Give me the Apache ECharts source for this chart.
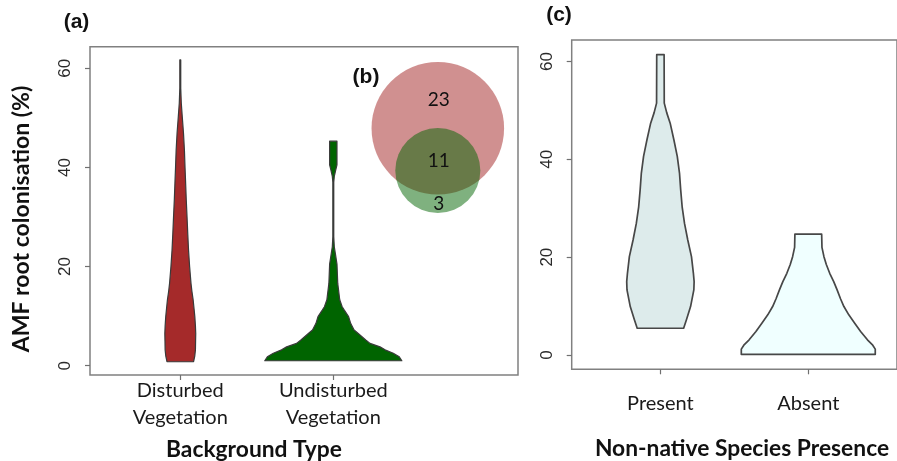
<!DOCTYPE html>
<html>
<head>
<meta charset="utf-8">
<script src="https://cdn.jsdelivr.net/npm/echarts@6/dist/echarts.min.js"></script>
<style>
html,body{margin:0;padding:0;background:#fff;}
#chart{width:897px;height:461px;}
</style>
</head>
<body>
<div id="chart"></div>
<script>
// ---------- DATA ----------
const categoriesA = ['Disturbed\nVegetation', 'Undisturbed\nVegetation'];
const categoriesC = ['Present', 'Absent'];
const yTicks = [0, 20, 40, 60];

// violin outlines: colonisation level (%) and density half-width (in category-spacing units)
const disturbedLevels   = [0.8, 2, 3.2, 5, 6.5, 8, 9.9, 11.5, 13.3, 15, 16.6, 20, 23.3, 26.5, 30.1, 33.5, 36.8, 40, 43.5, 46.9, 50.2, 53, 56, 61.7];
const disturbedWidths   = [0.087, 0.095, 0.099, 0.1, 0.101, 0.099, 0.095, 0.09, 0.084, 0.076, 0.07, 0.061, 0.054, 0.049, 0.044, 0.039, 0.035, 0.031, 0.027, 0.021, 0.013, 0.0065, 0.003, 0.003];

const undisturbedLevels = [1.0, 1.8, 2.5, 3.2, 3.8, 4.5, 5.2, 6.5, 7.2, 8.5, 9.9, 11.2, 11.9, 13.3, 16.6, 20.5, 22.7, 24, 26, 37, 38.2, 39.5, 40.5, 45.3];
const undisturbedWidths = [0.448, 0.431, 0.392, 0.338, 0.305, 0.24, 0.212, 0.163, 0.136, 0.114, 0.1, 0.072, 0.058, 0.042, 0.029, 0.024, 0.013, 0.0065, 0.003, 0.003, 0.0065, 0.016, 0.024, 0.024];

const presentLevels     = [5.46, 7.2, 9.9, 13.3, 15, 16.7, 20.1, 23.5, 26.9, 30.3, 33.8, 37.2, 40.6, 44, 47.4, 49.5, 51.5, 61.4];
const presentWidths     = [0.157, 0.176, 0.204, 0.226, 0.228, 0.223, 0.21, 0.185, 0.163, 0.147, 0.137, 0.129, 0.114, 0.091, 0.066, 0.043, 0.026, 0.025];

const absentLevels      = [0.14, 1.2, 2.0, 3.1, 4.8, 6.5, 8.2, 9.9, 11.5, 13.3, 15, 16.7, 18.5, 20.1, 22, 24.7];
const absentWidths      = [0.453, 0.453, 0.436, 0.4, 0.354, 0.314, 0.274, 0.241, 0.218, 0.195, 0.172, 0.145, 0.122, 0.106, 0.0925, 0.0905];

// Venn (b): species counts
const vennOnlyDisturbed = 23;
const vennShared = 11;
const vennOnlyUndisturbed = 3;

// ---------- LAYOUT / STYLE ----------
const violinsA = [
  {levels: disturbedLevels, widths: disturbedWidths, fill: '#A52A2A'},
  {levels: undisturbedLevels, widths: undisturbedWidths, fill: '#006400'}
];
const violinsC = [
  {levels: presentLevels, widths: presentWidths, fill: '#DDEBEB'},
  {levels: absentLevels, widths: absentWidths, fill: '#F0FFFF'}
];
const vennAnchor = [2.683, 47.9];   // centre of the larger circle in panel (a) units
const vennUnitsPerSqrt = 2.293;     // radius (y units) per sqrt(count)

const tickFont = 'Liberation Sans, Arial, sans-serif';
const catFont = 'Lato, "Open Sans", sans-serif';

function violinRender(list, strokeColor, lw) {
  return function (params, api) {
    const i = params.dataIndex;
    const v = list[i];
    const xc = api.value(0);
    const pts = [];
    for (let k = 0; k < v.levels.length; k++) pts.push(api.coord([xc + v.widths[k], v.levels[k]]));
    for (let k = v.levels.length - 1; k >= 0; k--) pts.push(api.coord([xc - v.widths[k], v.levels[k]]));
    return {
      type: 'polygon',
      shape: {points: pts},
      style: {fill: v.fill, stroke: strokeColor, lineWidth: lw, lineJoin: 'round'}
    };
  };
}

function lensArea(r1, r2, d) {
  if (d >= r1 + r2) return 0;
  if (d <= Math.abs(r1 - r2)) return Math.PI * Math.min(r1, r2) ** 2;
  const a1 = Math.acos((d * d + r1 * r1 - r2 * r2) / (2 * d * r1));
  const a2 = Math.acos((d * d + r2 * r2 - r1 * r1) / (2 * d * r2));
  const s = Math.sqrt((-d + r1 + r2) * (d + r1 - r2) * (d - r1 + r2) * (d + r1 + r2));
  return r1 * r1 * a1 + r2 * r2 * a2 - 0.5 * s;
}

function vennRender(params, api) {
  const nA = vennOnlyDisturbed + vennShared;
  const nB = vennOnlyUndisturbed + vennShared;
  const unit = api.size([0, 1])[1];
  const c = api.coord(vennAnchor);
  const rA = vennUnitsPerSqrt * Math.sqrt(nA) * unit;
  const rB = vennUnitsPerSqrt * Math.sqrt(nB) * unit;
  const target = vennShared * (Math.PI * rA * rA / nA);
  let lo = Math.abs(rA - rB), hi = rA + rB;
  for (let it = 0; it < 60; it++) {
    const mid = (lo + hi) / 2;
    if (lensArea(rA, rB, mid) > target) lo = mid; else hi = mid;
  }
  const d = (lo + hi) / 2;
  const cx = c[0], cyA = c[1], cyB = c[1] + d;
  const topA = cyA - rA, botA = cyA + rA, topB = cyB - rB, botB = cyB + rB;
  const txt = (t, y) => ({
    type: 'text', x: cx + 1, y: y,
    style: {text: String(t), font: '19px ' + catFont, fill: '#111', align: 'center', verticalAlign: 'middle'}
  });
  return {
    type: 'group',
    children: [
      {type: 'circle', shape: {cx: cx, cy: cyA, r: rA}, style: {fill: 'rgba(165,42,42,0.52)'}},
      {type: 'circle', shape: {cx: cx, cy: cyB, r: rB}, style: {fill: 'rgba(0,100,0,0.5)'}},
      txt(vennOnlyDisturbed, topA + 0.58 * (topB - topA)),
      txt(vennShared, (topB + botA) / 2),
      txt(vennOnlyUndisturbed, (botA + botB) / 2)
    ]
  };
}

const gridStyle = {show: true, borderColor: '#808080', borderWidth: 1.5, backgroundColor: 'transparent'};
const tickStyle = {show: true, customValues: [1, 2], length: 5, lineStyle: {color: '#707070', width: 1.2}};

const chart = echarts.init(document.getElementById('chart'), null, {renderer: 'canvas'});
chart.setOption({
  animation: false,
  backgroundColor: '#fff',
  grid: [
    Object.assign({left: 90, top: 46.7, right: 379, bottom: 86}, gridStyle),
    Object.assign({left: 571.7, top: 40, right: -8, bottom: 91.7}, gridStyle)
  ],
  xAxis: [
    {
      type: 'value', gridIndex: 0, min: 0.41, max: 3.207,
      axisLine: {show: false, onZero: false}, splitLine: {show: false},
      axisTick: tickStyle,
      axisLabel: {
        customValues: [1, 2], margin: 2,
        formatter: v => categoriesA[Math.round(v) - 1],
        fontFamily: catFont, fontSize: 20, lineHeight: 27, color: '#1a1a1a'
      }
    },
    {
      type: 'value', gridIndex: 1, min: 0.4, max: 2.6,
      axisLine: {show: false, onZero: false}, splitLine: {show: false},
      axisTick: tickStyle,
      axisLabel: {
        customValues: [1, 2], margin: 21,
        formatter: v => categoriesC[Math.round(v) - 1],
        fontFamily: catFont, fontSize: 20, lineHeight: 27, color: '#1a1a1a'
      }
    }
  ],
  yAxis: [
    {
      type: 'value', gridIndex: 0, min: -1.876, max: 64.36,
      axisLine: {show: false, onZero: false}, splitLine: {show: false},
      axisTick: Object.assign({}, tickStyle, {customValues: yTicks}),
      axisLabel: {customValues: yTicks, rotate: 90, margin: 16, fontFamily: tickFont, fontSize: 17, color: '#2a2a2a'}
    },
    {
      type: 'value', gridIndex: 1, min: -2.93, max: 64.4,
      axisLine: {show: false, onZero: false}, splitLine: {show: false},
      axisTick: Object.assign({}, tickStyle, {customValues: yTicks}),
      axisLabel: {customValues: yTicks, rotate: 90, margin: 16, fontFamily: tickFont, fontSize: 17, color: '#2a2a2a'}
    }
  ],
  series: [
    {
      type: 'custom', xAxisIndex: 0, yAxisIndex: 0, clip: false,
      renderItem: violinRender(violinsA, '#3a3a3a', 1.2),
      data: [[1], [2]]
    },
    {
      type: 'custom', xAxisIndex: 0, yAxisIndex: 0, clip: false, z: 3,
      renderItem: vennRender,
      data: [[0]]
    },
    {
      type: 'custom', xAxisIndex: 1, yAxisIndex: 1, clip: false,
      renderItem: violinRender(violinsC, '#474747', 1.7),
      data: [[1], [2]]
    }
  ],
  graphic: [
    {type: 'text', x: 76.5, y: 22, style: {text: '(a)', font: 'bold 21px ' + tickFont, fill: '#111', align: 'center', verticalAlign: 'middle'}},
    {type: 'text', x: 366, y: 77, style: {text: '(b)', font: 'bold 21px ' + tickFont, fill: '#111', align: 'center', verticalAlign: 'middle'}},
    {type: 'text', x: 559, y: 15, style: {text: '(c)', font: 'bold 21px ' + tickFont, fill: '#111', align: 'center', verticalAlign: 'middle'}},
    {type: 'text', x: 22, y: 219, rotation: Math.PI / 2, style: {text: 'AMF root colonisation (%)', font: 'bold 23px ' + catFont, fill: '#111', align: 'center', verticalAlign: 'middle'}},
    {type: 'text', x: 254, y: 449.5, style: {text: 'Background Type', font: 'bold 22.8px ' + catFont, fill: '#111', align: 'center', verticalAlign: 'middle'}},
    {type: 'text', x: 742, y: 449, style: {text: 'Non-native Species Presence', font: 'bold 22.8px ' + catFont, fill: '#111', align: 'center', verticalAlign: 'middle'}}
  ]
});
</script>
</body>
</html>
